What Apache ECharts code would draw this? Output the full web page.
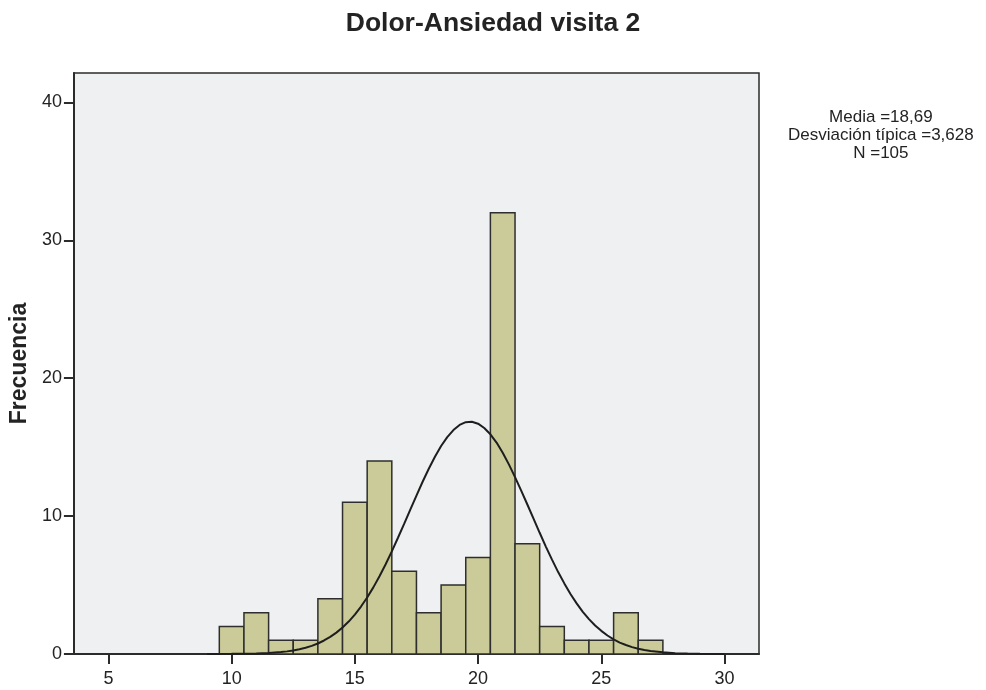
<!DOCTYPE html>
<html>
<head>
<meta charset="utf-8">
<title>Dolor-Ansiedad visita 2</title>
<script src="https://cdn.jsdelivr.net/npm/echarts@6/dist/echarts.min.js"></script>
<style>
  html, body { margin: 0; padding: 0; background: #fff; }
  #main { width: 986px; height: 690px; }
</style>
</head>
<body>
<div id="main"></div>
<script>
var binCenters = [10, 11, 12, 13, 14, 15, 16, 17, 18, 19, 20, 21, 22, 23, 24, 25, 26, 27];
var frequencies = [2, 3, 1, 1, 4, 11, 14, 6, 3, 5, 7, 32, 8, 2, 1, 1, 3, 1];

// curva normal (puntos estimados sobre la imagen)
var curveX = [9, 10, 10.5, 11, 11.5, 12, 12.25, 12.5, 12.75, 13, 13.25, 13.5, 13.75, 14, 14.25, 14.5, 14.75,
  15, 15.25, 15.5, 15.75, 16, 16.25, 16.5, 16.75, 17, 17.25, 17.5, 17.75, 18, 18.25, 18.5, 18.75,
  19, 19.25, 19.5, 19.75, 20, 20.25, 20.5, 20.75, 21, 21.25, 21.5, 21.75, 22, 22.25, 22.5, 22.75,
  23, 23.25, 23.5, 23.75, 24, 24.25, 24.5, 24.75, 25, 25.25, 25.5, 25.75, 26, 26.25, 26.5, 26.75,
  27, 27.5, 28, 28.5, 29, 30];
var curveY = [0, 0.01, 0.02, 0.04, 0.07, 0.14, 0.19, 0.26, 0.34, 0.45, 0.59, 0.76, 0.98, 1.24, 1.55, 1.92, 2.35,
  2.86, 3.44, 4.1, 4.83, 5.64, 6.51, 7.44, 8.43, 9.43, 10.47, 11.49, 12.49, 13.43, 14.3, 15.08, 15.73,
  16.24, 16.61, 16.81, 16.84, 16.7, 16.39, 15.93, 15.33, 14.59, 13.75, 12.83, 11.85, 10.84, 9.81, 8.79, 7.79,
  6.84, 5.94, 5.12, 4.35, 3.67, 3.06, 2.53, 2.07, 1.68, 1.34, 1.06, 0.83, 0.65, 0.5, 0.38, 0.29,
  0.21, 0.12, 0.06, 0.03, 0.01, 0];

var xTicks = [5, 10, 15, 20, 25, 30];
var yTicks = [0, 10, 20, 30, 40];

var statLines = ['Media =18,69', 'Desviación típica =3,628', 'N =105'];

var FONT = '"Liberation Sans", Arial, Helvetica, sans-serif';
var INK = '#232323';

var histData = [];
for (var i = 0; i < binCenters.length; i++) {
  histData.push([binCenters[i], frequencies[i]]);
}
var curveData = [];
for (var j = 0; j < curveX.length; j++) {
  curveData.push([curveX[j], curveY[j]]);
}

function renderBar(params, api) {
  var x = api.value(0);
  var y = api.value(1);
  var topLeft = api.coord([x - 0.5, y]);
  var bottomRight = api.coord([x + 0.5, 0]);
  return {
    type: 'rect',
    shape: {
      x: topLeft[0],
      y: topLeft[1],
      width: bottomRight[0] - topLeft[0],
      height: bottomRight[1] - topLeft[1]
    },
    style: {
      fill: '#cbcb9a',
      stroke: '#2e2e2e',
      lineWidth: 1.5
    }
  };
}

var myChart = echarts.init(document.getElementById('main'), null, { renderer: 'canvas' });

var option = {
  animation: false,
  backgroundColor: '#ffffff',
  textStyle: { fontFamily: FONT },
  title: {
    text: 'Dolor-Ansiedad visita 2',
    left: 'center',
    top: 5,
    textStyle: { fontFamily: FONT, fontSize: 26.5, fontWeight: 'bold', color: INK }
  },
  graphic: [{
    type: 'text',
    left: 788,
    top: 108,
    style: {
      text: statLines.join('\n'),
      textAlign: 'center',
      x: 82,
      font: '17px ' + FONT,
      lineHeight: 18,
      fill: INK
    }
  }],
  grid: {
    left: 72,
    right: 227,
    top: 73,
    bottom: 36,
    show: true,
    backgroundColor: '#eff0f2',
    borderColor: '#2b2b2b',
    borderWidth: 1.5
  },
  xAxis: {
    type: 'value',
    min: 3.6,
    max: 31.4,
    splitLine: { show: false },
    axisLine: { show: true, onZero: false, lineStyle: { color: '#2b2b2b', width: 2 } },
    axisTick: { show: true, length: 10, customValues: xTicks, lineStyle: { color: '#2b2b2b', width: 2 } },
    axisLabel: { customValues: xTicks, margin: 16, fontSize: 18, color: INK, fontFamily: FONT }
  },
  yAxis: {
    type: 'value',
    min: 0,
    max: 42.13,
    name: 'Frecuencia',
    nameLocation: 'middle',
    nameGap: 39,
    nameTextStyle: { fontFamily: FONT, fontSize: 23, fontWeight: 'bold', color: INK },
    splitLine: { show: false },
    axisLine: { show: true, lineStyle: { color: '#2b2b2b', width: 2 } },
    axisTick: { show: true, length: 10, customValues: yTicks, lineStyle: { color: '#2b2b2b', width: 2 } },
    axisLabel: { customValues: yTicks, margin: 12, fontSize: 18, color: INK, fontFamily: FONT }
  },
  series: [{
    type: 'custom',
    name: 'Frecuencia',
    renderItem: renderBar,
    encode: { x: 0, y: 1 },
    data: histData,
    z: 2
  }, {
    type: 'line',
    name: 'Normal',
    data: curveData,
    smooth: false,
    showSymbol: false,
    symbol: 'none',
    lineStyle: { color: '#1e1e1e', width: 2 },
    z: 3
  }]
};

myChart.setOption(option);
</script>
</body>
</html>
